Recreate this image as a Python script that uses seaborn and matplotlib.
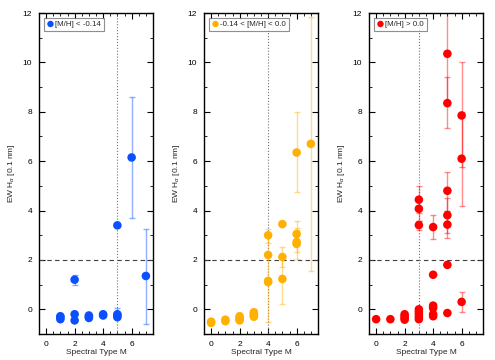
import numpy as np
import pandas as pd
import seaborn as sns
import matplotlib
matplotlib.use('Agg')
import matplotlib.pyplot as plt
from matplotlib.ticker import MultipleLocator

nan = np.nan

# Panel 1: [M/H] < -0.14
blue_x = [1, 1, 1, 2, 2, 2, 3, 3, 3, 4, 4, 5, 5, 5, 5, 6, 7]
blue_y = [-0.28, -0.33, -0.4, 1.2, -0.2, -0.45, -0.25, -0.3, -0.35, -0.2, -0.25,
          3.4, -0.2, -0.25, -0.32, 6.15, 1.35]
blue_lo = [nan, nan, nan, 1.0, nan, nan, nan, nan, nan, nan, nan,
           nan, -0.35, nan, nan, 3.7, -0.6]
blue_hi = [nan, nan, nan, 1.4, nan, nan, nan, nan, nan, nan, nan,
           nan, 0.05, nan, nan, 8.6, 3.25]

# Panel 2: -0.14 < [M/H] < 0.0
orange_x = [0, 0, 1, 1, 2, 2, 2, 2, 3, 3, 3, 3, 4, 4, 4, 4, 5, 5, 5, 6, 6, 6, 6, 7]
orange_y = [-0.5, -0.55, -0.42, -0.48, -0.28, -0.35, -0.4, -0.45, -0.12, -0.18, -0.25, -0.3,
            3.0, 2.2, 1.15, 1.1, 3.45, 2.12, 1.23, 6.35, 3.05, 2.73, 2.65, 6.7]
orange_lo = [nan, nan, nan, nan, nan, nan, nan, nan, -0.35, nan, nan, nan,
             2.7, nan, -0.53, nan, nan, 1.71, 0.23, 4.75, 2.69, 2.32, 2.05, 1.55]
orange_hi = [nan, nan, nan, nan, nan, nan, nan, nan, 0.0, nan, nan, nan,
             3.25, nan, 3.07, nan, nan, 2.53, 2.2, 8.0, 3.56, 3.29, 3.2, 11.85]

# Panel 3: [M/H] > 0.0
red_x = [0, 1, 2, 2, 2, 2, 3, 3, 3, 3, 3, 3, 3, 3, 4, 4, 4, 4, 4, 4,
         5, 5, 5, 5, 5, 5, 5, 6, 6, 6]
red_y = [-0.4, -0.4, -0.2, -0.28, -0.35, -0.42, 4.44, 4.07, 3.41, 0.0, -0.1, -0.2, -0.3, -0.4,
         3.33, 1.4, 0.15, 0.05, -0.2, -0.28,
         10.35, 8.35, 4.8, 3.81, 3.43, 1.8, -0.15, 7.85, 6.1, 0.3]
red_lo = [nan, nan, nan, nan, nan, nan, 3.9, 3.57, 3.22, nan, nan, nan, nan, nan,
          2.85, nan, nan, nan, nan, nan,
          8.4, 7.35, 4.0, 3.1, 2.9, nan, nan, 5.75, 4.2, -0.1]
red_hi = [nan, nan, nan, nan, nan, nan, 5.0, 4.5, 3.57, nan, nan, nan, nan, nan,
          3.8, nan, nan, nan, nan, nan,
          12.6, 9.4, 5.57, 4.5, 4.0, nan, nan, 10.0, 8.0, 0.7]

labels = ['[M/H] < -0.14', '-0.14 < [M/H] < 0.0', '[M/H] > 0.0']
colors = ['#0a50ff', '#ffb000', '#ff0000']
vlines = [5, 4, 3]

sns.set_style('ticks')
plt.rcParams['font.family'] = ['Liberation Sans', 'DejaVu Sans']
plt.rcParams['font.size'] = 6
plt.rcParams['mathtext.fontset'] = 'custom'
plt.rcParams['mathtext.rm'] = 'Liberation Sans'
plt.rcParams['mathtext.it'] = 'Liberation Sans:italic'

fig = plt.figure(figsize=(4.95, 3.6), dpi=100)
lefts = [39 / 495, 204 / 495, 369 / 495]

panels = [
    (blue_x, blue_y, blue_lo, blue_hi),
    (orange_x, orange_y, orange_lo, orange_hi),
    (red_x, red_y, red_lo, red_hi),
]

for i, (xs, ys, lo, hi) in enumerate(panels):
    ax = fig.add_axes([lefts[i], 26 / 360, 114 / 495, 321 / 360])
    df = pd.DataFrame({'x': xs, 'y': ys, 'lo': lo, 'hi': hi})
    c = colors[i]

    ax.axhline(2, color='0.25', lw=0.8, dashes=(4, 3), zorder=1)
    ax.axvline(vlines[i], color='0.45', lw=0.8, ls=':', zorder=1)

    err = df.dropna()
    ax.errorbar(err['x'], err['y'],
                yerr=[err['y'] - err['lo'], err['hi'] - err['y']],
                fmt='none', ecolor=c, alpha=0.45, elinewidth=1.0,
                capsize=2.5, capthick=1.0, zorder=2)

    sns.scatterplot(data=df, x='x', y='y', ax=ax, color=c, s=38,
                    edgecolor='none', label=labels[i], zorder=3)

    ax.set_xlim(-0.5, 7.5)
    ax.set_ylim(-1, 12)
    ax.xaxis.set_major_locator(MultipleLocator(2))
    ax.xaxis.set_minor_locator(MultipleLocator(0.5))
    ax.yaxis.set_major_locator(MultipleLocator(2))
    ax.yaxis.set_minor_locator(MultipleLocator(1))
    ax.tick_params(which='both', direction='in', top=True, right=True,
                   labelsize=6, colors='black', pad=5)
    ax.tick_params(which='major', length=4, width=0.8)
    ax.tick_params(which='minor', length=2, width=0.6)
    for s in ax.spines.values():
        s.set_linewidth(1.0)
        s.set_color('black')

    ax.set_xlabel('Spectral Type M', fontsize=6, labelpad=1)
    ax.set_ylabel(r'EW H$_\alpha$ [0.1 nm]', fontsize=6, labelpad=4)

    leg = ax.legend(loc='upper left', fontsize=5.7, handletextpad=0.1,
                    borderpad=0.35, handlelength=1.0, markerscale=0.75,
                    fancybox=False, borderaxespad=0.6)
    leg.get_frame().set_edgecolor('0.45')
    leg.get_frame().set_linewidth(0.8)

fig.savefig('out.png', dpi=100)
